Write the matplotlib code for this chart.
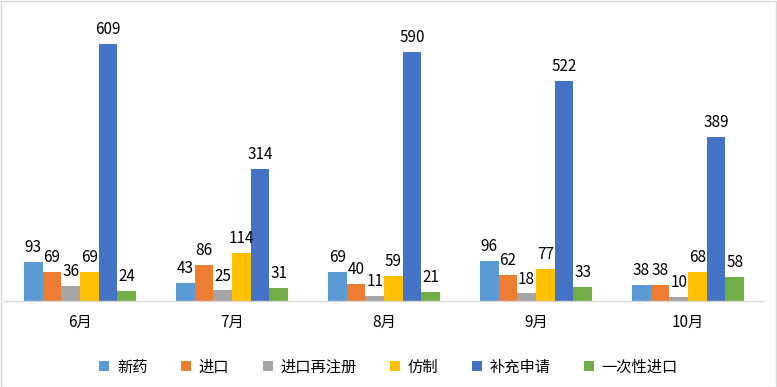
import matplotlib
matplotlib.use("Agg")
from matplotlib import pyplot as plt
from matplotlib.patches import Rectangle
import numpy as np

plt.rcParams['font.family'] = ['Noto Sans CJK SC', 'DejaVu Sans']

months = ['6月', '7月', '8月', '9月', '10月']
series = ['新药', '进口', '进口再注册', '仿制', '补充申请', '一次性进口']
xinyao = [93, 43, 69, 96, 38]
jinkou = [69, 86, 40, 62, 38]
zaizhuce = [36, 25, 11, 18, 10]
fangzhi = [69, 114, 59, 77, 68]
buchong = [609, 314, 590, 522, 389]
yicixing = [24, 31, 21, 33, 58]
values = [xinyao, jinkou, zaizhuce, fangzhi, buchong, yicixing]
colors = ['#5B9BD5', '#ED7D31', '#A5A5A5', '#FFC000', '#4472C4', '#70AD47']

fig = plt.figure(figsize=(7.77, 3.87), dpi=100)
ax = fig.add_axes([4 / 777, 1 - 301 / 387, 760 / 777, 291 / 387])

x = np.arange(len(months))
w = 0.123
for i, (name, vals, c) in enumerate(zip(series, values, colors)):
    pos = x + (i - 2.5) * w
    ax.bar(pos, vals, width=w, color=c, label=name)
    for p, v in zip(pos, vals):
        ax.text(p, v + 14, str(v), ha='center', va='bottom', fontsize=11, color='#000000')

ax.set_xlim(-0.5, len(months) - 0.5)
ax.set_ylim(0, 690)
ax.set_yticks([])
ax.set_xticks(x)
ax.set_xticklabels(months, fontsize=11)
ax.tick_params(axis='x', length=0, pad=9)
for s in ['top', 'right', 'left']:
    ax.spines[s].set_visible(False)
ax.spines['bottom'].set_color('#D9D9D9')
ax.spines['bottom'].set_linewidth(1)

leg = fig.legend(loc='center', bbox_to_anchor=(0.5, 1 - 367 / 387), ncol=6,
                 frameon=False, fontsize=11, handlelength=0.65, handleheight=0.65,
                 columnspacing=2.2, handletextpad=0.5)

fig.patches.append(Rectangle((0.5 / 777, 0.5 / 387), 775.5 / 777, 385.5 / 387,
                             transform=fig.transFigure, fill=False,
                             edgecolor='#D9D9D9', linewidth=1))

fig.savefig('out.png', dpi=100)
